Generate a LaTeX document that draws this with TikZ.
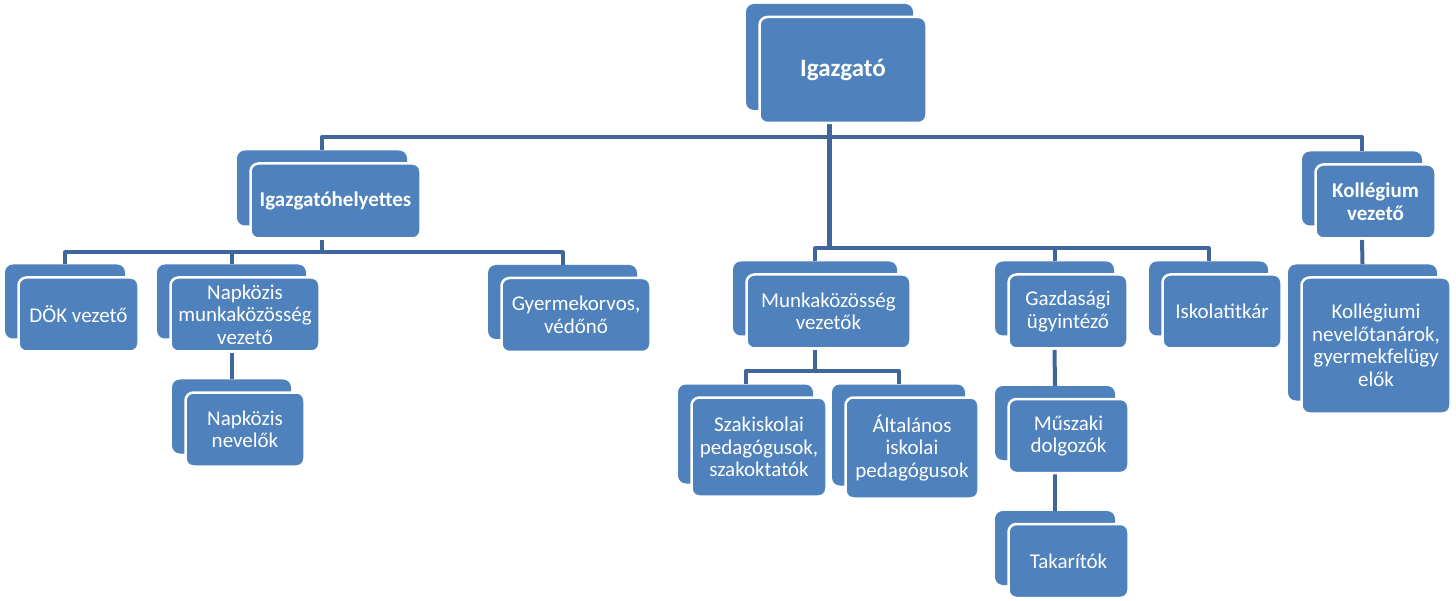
\documentclass[tikz,border=0pt]{standalone}
\usepackage{fontspec}
\setmainfont{Carlito}
\usepackage{xcolor}
\usetikzlibrary{positioning,backgrounds}

\definecolor{boxblue}{RGB}{79,129,189}
\definecolor{linkblue}{RGB}{64,102,156}

\begin{document}
\begin{tikzpicture}[
        x=1pt, y=-1pt,
        back/.style={fill=boxblue, rounded corners=8pt, inner sep=0pt},
        front/.style={fill=boxblue, draw=white, line width=2.5pt,
                      rounded corners=8pt, text=white, align=center,
                      inner sep=0pt, font=\fontsize{21}{22.5}\selectfont},
        boss/.style={font=\bfseries\fontsize{21}{22.5}\selectfont},
        conn/.style={draw=linkblue, line width=4pt, line join=round}
    ]
        \useasboundingbox (0,0) rectangle (1456,601);

        % top level
        \node[back, minimum width=167pt, minimum height=106pt] (ig) at (829.5,57) {};
        \node[front, minimum width=167pt, minimum height=106pt,
              font=\bfseries\fontsize{25}{27}\selectfont]
              (ig-f) at ([shift={(13.5,13)}]ig.center) {Igazgató};

        \node[back, minimum width=170pt, minimum height=75pt] (ighely) at (322,188) {};
        \node[front, boss, minimum width=170pt, minimum height=75pt]
              (ighely-f) at ([shift={(13.5,13)}]ighely.center) {Igazgatóhelyettes};

        \node[back, minimum width=120pt, minimum height=74pt] (kollv) at (1362,188.5) {};
        \node[front, boss, minimum width=120pt, minimum height=74pt]
              (kollv-f) at ([shift={(13.5,13)}]kollv.center) {Kollégium\\vezető};

        % under the deputy
        \node[back, minimum width=120pt, minimum height=74pt] (dok) at (65,301.5) {};
        \node[front, minimum width=120pt, minimum height=74pt]
              (dok-f) at ([shift={(13.5,13)}]dok.center) {DÖK vezető};

        \node[back, minimum width=149pt, minimum height=74pt] (napmk) at (231.5,301.5) {};
        \node[front, minimum width=149pt, minimum height=74pt]
              (napmk-f) at ([shift={(13.5,13)}]napmk.center) {Napközis\\munkaközösség\\vezető};

        \node[back, minimum width=149pt, minimum height=74pt] (orvos) at (562.5,302) {};
        \node[front, minimum width=149pt, minimum height=74pt]
              (orvos-f) at ([shift={(13.5,13)}]orvos.center) {Gyermekorvos,\\védőnő};

        \node[back, minimum width=119pt, minimum height=74pt] (napnev) at (231.5,416.5) {};
        \node[front, minimum width=119pt, minimum height=74pt]
              (napnev-f) at ([shift={(13.5,13)}]napnev.center) {Napközis\\nevelők};

        % middle row
        \node[back, minimum width=164pt, minimum height=74pt] (mkv) at (815,298.5) {};
        \node[front, minimum width=164pt, minimum height=74pt]
              (mkv-f) at ([shift={(13.5,13)}]mkv.center) {Munkaközösség\\vezetők};

        \node[back, minimum width=135pt, minimum height=99pt] (szak) at (745.5,434) {};
        \node[front, minimum width=135pt, minimum height=99pt]
              (szak-f) at ([shift={(13.5,13)}]szak.center) {Szakiskolai\\pedagógusok,\\szakoktatók};

        \node[back, minimum width=133pt, minimum height=101pt] (alt) at (898.5,435) {};
        \node[front, minimum width=133pt, minimum height=101pt]
              (alt-f) at ([shift={(13.5,13)}]alt.center) {Általános\\iskolai\\pedagógusok};

        \node[back, minimum width=119pt, minimum height=74pt] (gazd) at (1054.5,298.5) {};
        \node[front, minimum width=119pt, minimum height=74pt]
              (gazd-f) at ([shift={(13.5,13)}]gazd.center) {Gazdasági\\ügyintéző};

        \node[back, minimum width=120pt, minimum height=74pt] (musz) at (1055,423) {};
        \node[front, minimum width=120pt, minimum height=74pt]
              (musz-f) at ([shift={(13.5,13)}]musz.center) {Műszaki\\dolgozók};

        \node[back, minimum width=120pt, minimum height=74pt] (takar) at (1055,548) {};
        \node[front, minimum width=120pt, minimum height=74pt]
              (takar-f) at ([shift={(13.5,13)}]takar.center) {Takarítók};

        \node[back, minimum width=119pt, minimum height=74pt] (titkar) at (1208.5,298.5) {};
        \node[front, minimum width=119pt, minimum height=74pt]
              (titkar-f) at ([shift={(13.5,13)}]titkar.center) {Iskolatitkár};

        \node[back, minimum width=149pt, minimum height=136pt] (kollnev) at (1362.5,332.5) {};
        \node[front, minimum width=149pt, minimum height=136pt]
              (kollnev-f) at ([shift={(13.5,13)}]kollnev.center)
              {Kollégiumi\\nevelőtanárok,\\gyermekfelügy\\elők};

        % connectors
        \coordinate (bus1) at (0,137);
        \coordinate (bus2) at (0,248.5);
        \coordinate (bus3) at (0,252.5);
        \coordinate (bus4) at (0,371);

        \begin{scope}[on background layer]
            \fill[white] (0,0) rectangle (1456,601);

            \draw[conn] (ighely.north) -- (ighely.north |- bus1) -| (kollv.north);
            \draw[conn, line width=5pt] (ig-f.south -| ig.south) -- (ig.south |- bus2);
            \draw[conn] (mkv.north) -- (mkv.north |- bus2) -| (titkar.north);
            \draw[conn] (gazd.north) -- (gazd.north |- bus2);

            \draw[conn] (ighely-f.south -| ighely.south) -- (ighely.south |- bus3);
            \draw[conn] (dok.north) -- (dok.north |- bus3) -| (orvos.north);
            \draw[conn] (napmk.north) -- (napmk.north |- bus3);
            \draw[conn] (napmk-f.south -| napmk.south) -- (napnev.north);

            \draw[conn] (mkv-f.south -| mkv.south) -- (mkv.south |- bus4);
            \draw[conn] (szak.north) -- (szak.north |- bus4) -| (alt.north);

            \draw[conn] (gazd-f.south -| gazd.south) -- (musz.north);
            \draw[conn] (musz-f.south -| musz.south) -- (takar.north);
            \draw[conn] (kollv-f.south -| kollv.south) -- (kollnev.north);
        \end{scope}
    \end{tikzpicture}
\end{document}
